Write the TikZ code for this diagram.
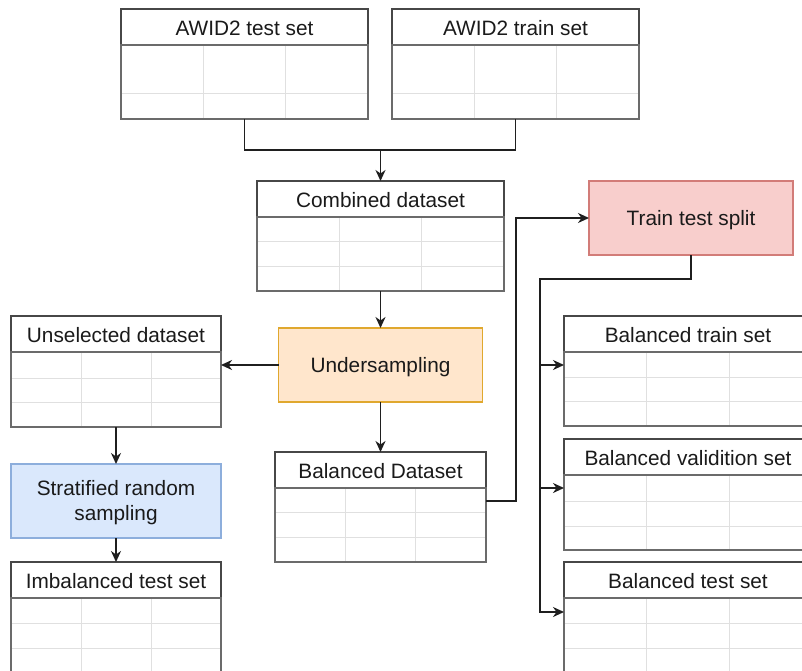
\documentclass[tikz,border=0pt]{standalone}
\usepackage{fontspec}
\setmainfont{Liberation Sans}
\usetikzlibrary{arrows.meta,calc}
\definecolor{txt}{HTML}{1A1A1A}
\definecolor{orfill}{HTML}{FFE6CC}\definecolor{ordraw}{HTML}{E0A82E}
\definecolor{rdfill}{HTML}{F8CECC}\definecolor{rddraw}{HTML}{D27C78}
\definecolor{blfill}{HTML}{DAE8FC}\definecolor{bldraw}{HTML}{8DAEDC}
\tikzset{
  hdr/.style={draw=black!72,line width=1.6pt,rectangle,inner sep=0pt,outer sep=0pt,minimum height=36pt,text=txt,font=\fontsize{20.8}{24}\selectfont,text height=17pt,text depth=0pt},
  tbody/.style={draw=black!58,line width=1.6pt,rectangle,inner sep=0pt,outer sep=0pt},
  gridln/.style={draw=black!12,line width=1pt},
  proc/.style={rectangle,inner sep=0pt,outer sep=0pt,line width=1.5pt,minimum width=204pt,minimum height=74pt,text=txt,align=center,font=\fontsize{20.8}{25}\selectfont,text height=15pt,text depth=0pt},
  conn/.style={draw=black!88,line width=1.7pt},
  arr/.style={conn,-{Stealth[length=11pt,width=10pt,inset=3.5pt]}},
}
% name, left, top, width, title, body height, row offsets
\newcommand\dtab[7]{%
  \node[hdr,minimum width=#4pt,anchor=north west] (#1h) at (#2,#3) {#5};
  \node[tbody,minimum width=#4pt,minimum height=#6pt,anchor=north west] (#1) at (#1h.south west) {};
  \foreach \r in {#7}{\draw[gridln] ([yshift=-\r pt]#1.north west) -- ([yshift=-\r pt]#1.north east);}
  \draw[gridln] ($(#1.north west)!1/3!(#1.north east)$) -- ($(#1.south west)!1/3!(#1.south east)$);
  \draw[gridln] ($(#1.north west)!2/3!(#1.north east)$) -- ($(#1.south west)!2/3!(#1.south east)$);
  \draw[tbody] (#1.north west) rectangle (#1.south east);
}
\begin{document}
\begin{tikzpicture}[x=1pt,y=-1pt]
\useasboundingbox (0,0) rectangle (802,671);
\fill[white] (0,0) rectangle (802,671);
\clip (0,0) rectangle (802,671);
% tables
\dtab{ta}{121}{9}{247}{AWID2 test set}{74}{49}
\dtab{tb}{392}{9}{247}{AWID2 train set}{74}{49}
\dtab{cd}{257}{181}{247}{Combined dataset}{74}{24,49}
\dtab{un}{11}{316}{210}{Unselected dataset}{75}{26,50}
\dtab{bd}{275}{452}{211}{Balanced Dataset}{74}{24,49}
\dtab{it}{11}{562}{210}{Imbalanced test set}{112}{25,50,75,100}
\dtab{btr}{564}{316}{248}{Balanced train set}{74}{25,49}
\dtab{bva}{564}{439}{248}{Balanced validition set}{75}{26,51}
\dtab{bte}{564}{562}{248}{Balanced test set}{112}{25,50,75,100}
% process boxes
\node[proc,fill=orfill,draw=ordraw] (us) at (380.5,365) {Undersampling};
\node[proc,fill=blfill,draw=bldraw,minimum width=210pt,text height=39pt,text depth=0pt] (sr) at (116,501) {Stratified random\\sampling};
\node[proc,fill=rdfill,draw=rddraw] (tts) at (691,218) {Train test split};
% connectors
\coordinate (m) at (380.5,150);
\draw[conn] (ta.south) |- (m) -| (tb.south);
\draw[arr] (m) -- (cdh.north);
\draw[arr] (cd.south) -- (us.north);
\draw[arr] (us.west) -- (us.west -| un.east);
\draw[arr] (us.south) -- (bdh.north);
\draw[arr] (un.south) -- (sr.north);
\draw[arr] (sr.south) -- (ith.north);
\coordinate (c1) at (516,501);
\draw[arr] ([yshift=-13pt]bd.north east) -- (c1) |- (tts.west);
\coordinate (c2) at (540,279);
\path ([yshift=-13pt]btr.north west) coordinate (e1)
      ([yshift=-13pt]bva.north west) coordinate (e2)
      ([yshift=-14pt]bte.north west) coordinate (e3);
\draw[arr] (tts.south) |- (c2) |- (e3);
\draw[arr] (e1 -| c2) -- (e1);
\draw[arr] (e2 -| c2) -- (e2);
\end{tikzpicture}
\end{document}
